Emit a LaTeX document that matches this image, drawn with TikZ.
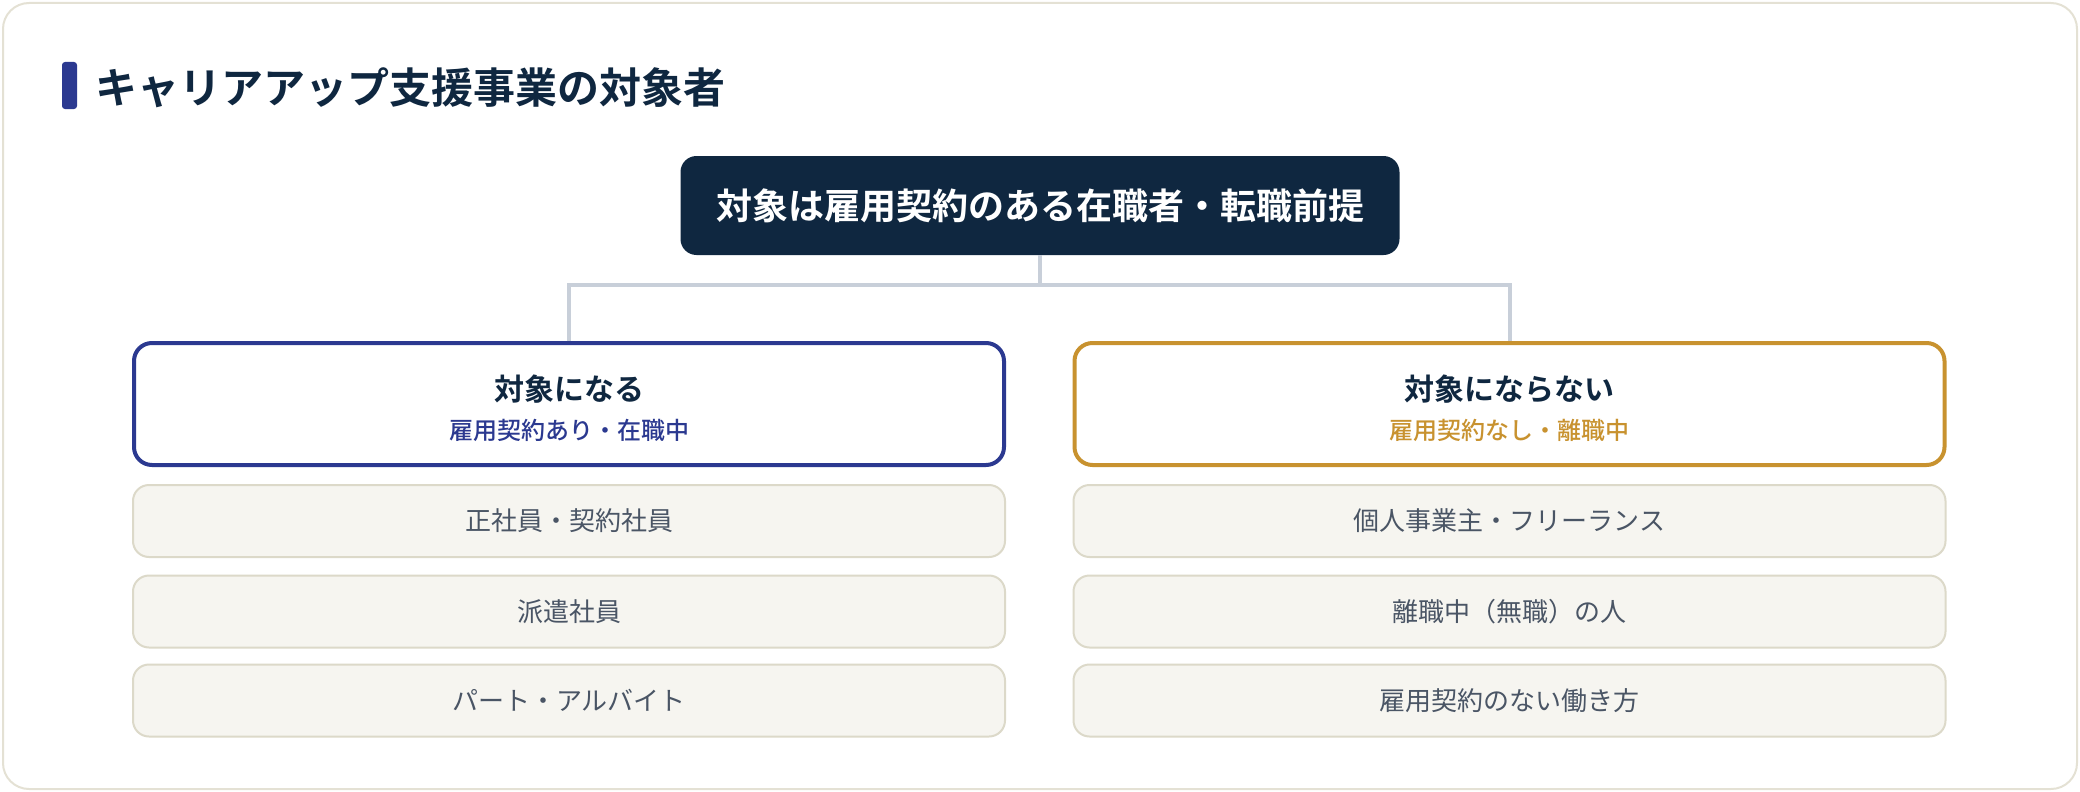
\documentclass[tikz,border=0pt]{standalone}
\usepackage{fontspec}
\newfontfamily\jp{Noto Sans CJK JP}
\newfontfamily\jpm{Noto Sans CJK JP Medium}
\newfontfamily\jpb{Noto Sans CJK JP Bold}
\definecolor{navy}{HTML}{0F2740}
\definecolor{indigo}{HTML}{2B3990}
\definecolor{gold}{HTML}{C8922F}
\definecolor{itemfill}{HTML}{F6F5F0}
\definecolor{itemline}{HTML}{DCD9C9}
\definecolor{itemtext}{HTML}{4A5565}
\definecolor{connline}{HTML}{C8CFD9}
\definecolor{cardline}{HTML}{E4E1D4}
\tikzset{
  card/.style={draw=cardline, line width=2pt, fill=white, rounded corners=26pt},
  topbox/.style={fill=navy, rounded corners=16pt, minimum width=719pt, minimum height=99pt, inner sep=0pt, text=white, font=\jpb\fontsize{36}{42}\selectfont},
  catbox/.style={draw=#1, line width=4pt, fill=white, rounded corners=18pt, minimum width=870pt, minimum height=122pt, inner sep=0pt},
  itembox/.style={draw=itemline, line width=2pt, fill=itemfill, rounded corners=16pt, minimum width=872pt, minimum height=72pt, inner sep=0pt, text=itemtext, font=\jp\fontsize{26}{30}\selectfont},
  conn/.style={draw=connline, line width=4pt},
  cattitle/.style={text=navy, font=\jpb\fontsize{30}{34}\selectfont, inner sep=0pt},
  catsub/.style={text=#1, font=\jpm\fontsize{24}{28}\selectfont, inner sep=0pt},
}
\begin{document}
\begin{tikzpicture}[x=1pt,y=-1pt]
\useasboundingbox (0,0) rectangle (2080,792);
\draw[card] (3,3) rectangle (2077,789);
\fill[indigo, rounded corners=3pt] (62,62) rectangle (77,109);
\node[anchor=west, inner sep=0pt, text=navy, font=\jpb\fontsize{42}{48}\selectfont] (title) at (95,88) {キャリアアップ支援事業の対象者};

\node[topbox] (top) at (1040,205.5) {対象は雇用契約のある在職者・転職前提};

\node[catbox=indigo] (left) at (569,404) {};
\node[catbox=gold] (right) at (1509.5,404) {};
\node[cattitle] (lt) at (569,389) {対象になる};
\node[catsub=indigo] (ls) at (569,430) {雇用契約あり・在職中};
\node[cattitle] (rt) at (1509.5,389) {対象にならない};
\node[catsub=gold] (rs) at (1509.5,430) {雇用契約なし・離職中};

\coordinate (j) at (1040,285);
\draw[conn] (top.south) -- (j);
\draw[conn] (left.north) |- (j) -| (right.north);

\node[itembox] (l1) at (569,521) {正社員・契約社員};
\node[itembox] (l2) at (569,611.5) {派遣社員};
\node[itembox] (l3) at (569,700.5) {パート・アルバイト};
\node[itembox] (r1) at (1509.5,521) {個人事業主・フリーランス};
\node[itembox] (r2) at (1509.5,611.5) {離職中（無職）の人};
\node[itembox] (r3) at (1509.5,700.5) {雇用契約のない働き方};
\end{tikzpicture}
\end{document}
